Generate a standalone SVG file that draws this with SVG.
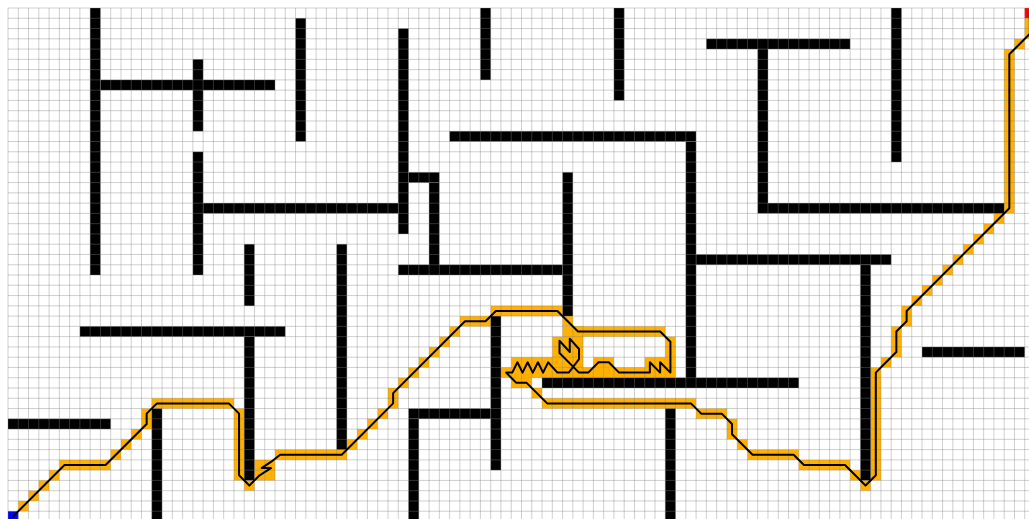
<svg xmlns="http://www.w3.org/2000/svg" width="1029" height="519" viewBox="0 0 1029 519">
<style>
.wall{fill:#000}
.vis{fill:#ffb000}
.grid{fill:none;stroke:#808080;stroke-opacity:0.38;stroke-width:1}
.route{fill:none;stroke:#000;stroke-width:2;stroke-linejoin:round;stroke-linecap:round}
</style>
<rect width="1029" height="519" fill="#fff"/>
<g transform="translate(8,8) scale(10.27)">
<g id="visited" class="vis">
<rect x="1" y="48" width="1" height="1"/><rect x="2" y="47" width="1" height="1"/><rect x="3" y="46" width="1" height="1"/><rect x="4" y="45" width="1" height="1"/>
<rect x="5" y="44" width="5" height="1"/>
<rect x="10" y="43" width="1" height="1"/><rect x="11" y="42" width="1" height="1"/><rect x="12" y="41" width="1" height="1"/><rect x="13" y="39" width="1" height="2"/>
<rect x="14" y="38" width="8" height="1"/>
<rect x="22" y="39" width="1" height="7"/>
<rect x="23" y="46" width="1" height="1"/>
<rect x="24" y="44" width="2" height="2"/>
<rect x="26" y="43" width="7" height="1"/>
<rect x="33" y="42" width="1" height="1"/><rect x="34" y="41" width="1" height="1"/><rect x="35" y="40" width="1" height="1"/><rect x="36" y="39" width="1" height="1"/>
<rect x="37" y="37" width="1" height="2"/><rect x="38" y="36" width="1" height="1"/><rect x="39" y="35" width="1" height="1"/><rect x="40" y="34" width="1" height="1"/><rect x="41" y="33" width="1" height="1"/><rect x="42" y="32" width="1" height="1"/><rect x="43" y="31" width="1" height="1"/>
<rect x="44" y="30" width="3" height="1"/>
<rect x="47" y="29" width="7" height="1"/>
<rect x="54" y="30" width="1" height="1"/>
<rect x="55" y="31" width="9" height="1"/>
<rect x="64" y="32" width="1" height="4"/>
<rect x="48" y="35" width="16" height="1"/>
<rect x="49" y="34" width="5" height="1"/><rect x="57" y="34" width="2" height="1"/><rect x="62" y="34" width="2" height="1"/>
<rect x="53" y="32" width="1" height="3"/><rect x="54" y="31" width="2" height="5"/>
<rect x="49" y="36" width="2" height="1"/><rect x="51" y="37" width="1" height="1"/>
<rect x="52" y="38" width="15" height="1"/>
<rect x="67" y="39" width="3" height="1"/>
<rect x="70" y="40" width="1" height="2"/><rect x="71" y="42" width="1" height="1"/>
<rect x="72" y="43" width="5" height="1"/>
<rect x="77" y="44" width="5" height="1"/>
<rect x="82" y="45" width="1" height="1"/><rect x="83" y="46" width="1" height="1"/>
<rect x="84" y="35" width="1" height="11"/>
<rect x="85" y="34" width="1" height="1"/><rect x="86" y="31" width="1" height="3"/><rect x="87" y="29" width="1" height="2"/><rect x="88" y="28" width="1" height="1"/>
<rect x="89" y="27" width="1" height="1"/><rect x="90" y="26" width="1" height="1"/><rect x="91" y="25" width="1" height="1"/><rect x="92" y="24" width="1" height="1"/><rect x="93" y="23" width="1" height="1"/><rect x="94" y="22" width="1" height="1"/><rect x="95" y="21" width="1" height="1"/><rect x="96" y="20" width="1" height="1"/>
<rect x="97" y="4" width="1" height="16"/>
<rect x="98" y="3" width="1" height="1"/>
<rect x="99" y="1" width="1" height="2"/>
</g>
<rect id="start" x="0" y="49" width="1" height="1" fill="#0000ff"/>
<rect id="goal" x="99" y="0" width="1" height="1" fill="#ff0000"/>
<g id="walls" class="wall">
<rect x="8" y="0" width="1" height="26"/>
<rect x="9" y="7" width="17" height="1"/>
<rect x="18" y="5" width="1" height="7"/>
<rect x="18" y="14" width="1" height="12"/>
<rect x="19" y="19" width="19" height="1"/>
<rect x="28" y="1" width="1" height="12"/>
<rect x="38" y="2" width="1" height="20"/>
<rect x="39" y="16" width="3" height="1"/>
<rect x="41" y="17" width="1" height="9"/>
<rect x="38" y="25" width="16" height="1"/>
<rect x="54" y="16" width="1" height="14"/>
<rect x="46" y="0" width="1" height="7"/>
<rect x="59" y="0" width="1" height="9"/>
<rect x="43" y="12" width="24" height="1"/>
<rect x="66" y="13" width="1" height="24"/>
<rect x="67" y="24" width="19" height="1"/>
<rect x="83" y="25" width="1" height="21"/>
<rect x="68" y="3" width="14" height="1"/>
<rect x="73" y="4" width="1" height="16"/>
<rect x="74" y="19" width="23" height="1"/>
<rect x="86" y="0" width="1" height="15"/>
<rect x="89" y="33" width="10" height="1"/>
<rect x="52" y="36" width="25" height="1"/>
<rect x="64" y="39" width="1" height="11"/>
<rect x="47" y="30" width="1" height="15"/>
<rect x="39" y="39" width="8" height="1"/>
<rect x="39" y="40" width="1" height="10"/>
<rect x="32" y="23" width="1" height="20"/>
<rect x="23" y="23" width="1" height="6"/>
<rect x="23" y="32" width="1" height="14"/>
<rect x="7" y="31" width="20" height="1"/>
<rect x="0" y="40" width="10" height="1"/>
<rect x="14" y="39" width="1" height="11"/>
</g>
<g id="grid">
<path class="grid" vector-effect="non-scaling-stroke" d="M0 0v50m1-50v50m1-50v50m1-50v50m1-50v50m1-50v50m1-50v50m1-50v50m1-50v50m1-50v50m1-50v50m1-50v50m1-50v50m1-50v50m1-50v50m1-50v50m1-50v50m1-50v50m1-50v50m1-50v50m1-50v50m1-50v50m1-50v50m1-50v50m1-50v50m1-50v50m1-50v50m1-50v50m1-50v50m1-50v50m1-50v50m1-50v50m1-50v50m1-50v50m1-50v50m1-50v50m1-50v50m1-50v50m1-50v50m1-50v50m1-50v50m1-50v50m1-50v50m1-50v50m1-50v50m1-50v50m1-50v50m1-50v50m1-50v50m1-50v50m1-50v50m1-50v50m1-50v50m1-50v50m1-50v50m1-50v50m1-50v50m1-50v50m1-50v50m1-50v50m1-50v50m1-50v50m1-50v50m1-50v50m1-50v50m1-50v50m1-50v50m1-50v50m1-50v50m1-50v50m1-50v50m1-50v50m1-50v50m1-50v50m1-50v50m1-50v50m1-50v50m1-50v50m1-50v50m1-50v50m1-50v50m1-50v50m1-50v50m1-50v50m1-50v50m1-50v50m1-50v50m1-50v50m1-50v50m1-50v50m1-50v50m1-50v50m1-50v50m1-50v50m1-50v50m1-50v50m1-50v50m1-50v50m1-50v50m1-50v50m1-50v50m1-50v50m1-50v50m1-50v50m1-50v50m1-50v50"/>
<path class="grid" vector-effect="non-scaling-stroke" d="M0 0h100m-100 1h100m-100 1h100m-100 1h100m-100 1h100m-100 1h100m-100 1h100m-100 1h100m-100 1h100m-100 1h100m-100 1h100m-100 1h100m-100 1h100m-100 1h100m-100 1h100m-100 1h100m-100 1h100m-100 1h100m-100 1h100m-100 1h100m-100 1h100m-100 1h100m-100 1h100m-100 1h100m-100 1h100m-100 1h100m-100 1h100m-100 1h100m-100 1h100m-100 1h100m-100 1h100m-100 1h100m-100 1h100m-100 1h100m-100 1h100m-100 1h100m-100 1h100m-100 1h100m-100 1h100m-100 1h100m-100 1h100m-100 1h100m-100 1h100m-100 1h100m-100 1h100m-100 1h100m-100 1h100m-100 1h100m-100 1h100m-100 1h100"/>
</g>
<g id="connectors">
<polyline class="route" vector-effect="non-scaling-stroke" points="0.5,49.5 5.5,44.5 9.5,44.5 13.5,40.5 13.5,39.5 14.5,38.5 21.5,38.5 22.5,39.5 22.5,45.5 23.5,46.5 24.5,45.5 25.6,44.8 24.7,44.8 25.6,44.2 26.5,43.5 32.5,43.5 37.5,38.5 37.5,37.5 44.5,30.5 46.5,30.5 47.5,29.5 53.5,29.5 55.5,31.5 63.5,31.5 64.5,32.5 64.5,35.5 63.5,34.5 63.5,35.5 62.5,34.5 62.5,35.5 59.5,35.5 58.5,34.5 57.5,34.5 56.5,35.5 55.6,35.5 53.7,33.6 53.7,32.4 54.7,33.5 54.7,32.2 55.6,33.2 55.6,34.2 54.6,35.5 53.5,35.5 52.6,34.5 52.1,35.5 51.6,34.5 51.1,35.5 50.6,34.5 50.1,35.5 49.6,34.5 49.1,35.5 48.5,35.5 49.5,36.5 50.5,36.5 52.5,38.5 66.5,38.5 67.5,39.5 69.5,39.5 70.5,40.5 70.5,41.5 71.5,42.5 72.5,43.5 76.5,43.5 77.5,44.5 81.5,44.5 82.5,45.5 83.5,46.5 84.5,45.5 84.5,35.5 85.5,34.5 86.5,33.5 86.5,31.5 87.5,30.5 87.5,29.5 88.5,28.5 96.5,20.5 97.5,19.5 97.5,4.5 98.5,3.5 99.5,2.5 99.5,0.5"/>
</g>
</g>
</svg>
